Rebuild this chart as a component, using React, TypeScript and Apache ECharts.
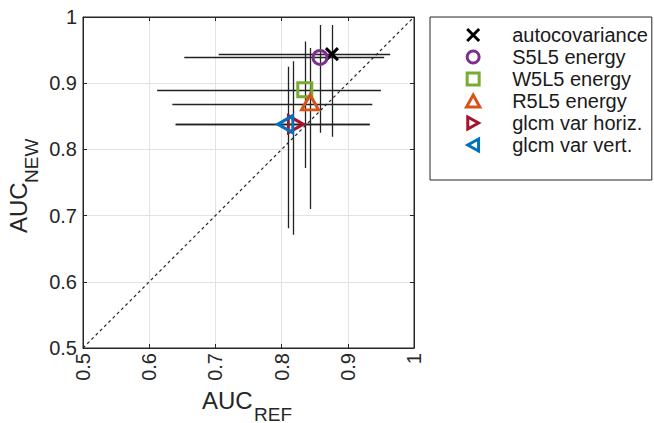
import React, { useEffect, useRef } from 'react';
import * as echarts from 'echarts';

const labels = ['autocovariance', 'S5L5 energy', 'W5L5 energy', 'R5L5 energy', 'glcm var horiz.', 'glcm var vert.'];
const aucRef = [0.876, 0.858, 0.835, 0.843, 0.817, 0.81];
const aucNew = [0.944, 0.939, 0.89, 0.868, 0.838, 0.838];
const refLow = [0.705, 0.653, 0.612, 0.635, 0.64, 0.64];
const refHigh = [0.964, 0.955, 0.95, 0.937, 0.933, 0.933];
const newLow = [0.819, 0.825, 0.772, 0.71, 0.671, 0.681];
const newHigh = [0.988, 0.988, 0.963, 0.953, 0.933, 0.925];
const colors = ['#000000', '#7E2F8E', '#77AC30', '#D95319', '#A2142F', '#0072BD'];
const symbols = [
  'path://M0,0L10,10M10,0L0,10',
  'path://M5,0A5,5 0 1,1 5,10A5,5 0 1,1 5,0Z',
  'path://M0,0L10,0L10,10L0,10Z',
  'path://M5,0L10,9L0,9Z',
  'path://M0,0L9,5L0,10Z',
  'path://M9,0L0,5L9,10Z',
];
const markerSizes: any[] = [12, 14, 14, [17, 15], [15, 17], [15, 17]];
const markerOffsets = [[0, 0], [0, 0], [0, 0], [0, -2], [3, 0], [-3, 0]];
const axisTicks = [0.5, 0.6, 0.7, 0.8, 0.9, 1];

const FONT = 'Liberation Sans, Arial, Helvetica, sans-serif';
const TXT = '#262626';

export default function App() {
  const ref = useRef<HTMLDivElement>(null);
  useEffect(() => {
    const chart = echarts.init(ref.current!, null, { renderer: 'svg' });
    const min = axisTicks[0];
    const max = axisTicks[axisTicks.length - 1];
    const fmt = (v: number) => String(Math.round(v * 10) / 10);
    const baseAxis = {
      type: 'value',
      min,
      max,
      interval: 0.1,
      axisLine: { show: true, lineStyle: { color: TXT, width: 1 } },
      axisTick: { show: true, inside: true, length: 4, lineStyle: { color: TXT } },
    };
    const errSegs: any[] = [];
    for (let i = 0; i < labels.length; i++) {
      errSegs.push({ coords: [[refLow[i], aucNew[i]], [refHigh[i], aucNew[i]]] });
      errSegs.push({ coords: [[aucRef[i], newLow[i]], [aucRef[i], newHigh[i]]] });
    }
    const scatterSeries = labels.map((name, i) => ({
      type: 'scatter',
      name,
      data: [[aucRef[i], aucNew[i]]],
      symbol: symbols[i],
      symbolSize: markerSizes[i],
      symbolOffset: markerOffsets[i],
      symbolKeepAspect: false,
      itemStyle: {
        color: i === 0 ? '#000' : 'rgba(0,0,0,0)',
        borderColor: colors[i],
        borderWidth: 3,
        opacity: 1,
      },
      z: 5,
    }));
    chart.setOption({
      animation: false,
      backgroundColor: '#fff',
      textStyle: { fontFamily: FONT },
      grid: {
        left: 83,
        top: 17,
        width: 331,
        height: 331,
        show: true,
        borderColor: TXT,
        borderWidth: 1,
        backgroundColor: '#fff',
      },
      xAxis: [
        {
          ...baseAxis,
          position: 'bottom',
          axisLabel: { rotate: 90, fontSize: 20, color: TXT, margin: 5, fontFamily: FONT, formatter: fmt },
          splitLine: { show: true, lineStyle: { color: '#e3e3e3', width: 1 } },
        },
        {
          ...baseAxis,
          position: 'top',
          axisLabel: { show: false },
          splitLine: { show: false },
        },
      ],
      yAxis: [
        {
          ...baseAxis,
          position: 'left',
          axisLabel: { fontSize: 20, color: TXT, margin: 6, fontFamily: FONT, formatter: fmt },
          splitLine: { show: true, lineStyle: { color: '#e3e3e3', width: 1 } },
        },
        {
          ...baseAxis,
          position: 'right',
          axisLabel: { show: false },
          splitLine: { show: false },
        },
      ],
      legend: {
        orient: 'vertical',
        left: 430,
        top: 17,
        padding: [7, 4, 24, 35],
        itemGap: 0,
        itemWidth: 68,
        itemHeight: 12,
        symbolKeepAspect: true,
        borderColor: TXT,
        borderWidth: 1,
        backgroundColor: '#fff',
        textStyle: { fontSize: 20, color: '#1a1a1a', fontFamily: FONT, lineHeight: 22 },
        data: labels.map((name, i) => ({
          name,
          icon: symbols[i],
          itemStyle: {
            color: i === 0 ? '#000' : 'rgba(0,0,0,0)',
            borderColor: colors[i],
            borderWidth: 3,
          },
        })),
      },
      series: [
        {
          type: 'line',
          data: [[min, min], [max, max]],
          showSymbol: false,
          silent: true,
          lineStyle: { color: TXT, width: 1.2, type: [3, 3] },
          z: 1,
        },
        {
          type: 'lines',
          coordinateSystem: 'cartesian2d',
          data: errSegs,
          silent: true,
          lineStyle: { color: '#222', width: 1.3, opacity: 1 },
          z: 2,
        },
        ...scatterSeries,
      ],
      graphic: [
        {
          type: 'text',
          x: 202,
          y: 400.5,
          style: { text: 'AUC', fontSize: 24, fill: TXT, fontFamily: FONT, align: 'left', verticalAlign: 'middle' },
        },
        {
          type: 'text',
          x: 254,
          y: 414,
          style: { text: 'REF', fontSize: 19, fill: TXT, fontFamily: FONT, align: 'left', verticalAlign: 'middle' },
        },
        {
          type: 'text',
          x: 18.5,
          y: 233,
          rotation: Math.PI / 2,
          style: { text: 'AUC', fontSize: 24, fill: TXT, fontFamily: FONT, align: 'left', verticalAlign: 'middle' },
        },
        {
          type: 'text',
          x: 31.5,
          y: 183,
          rotation: Math.PI / 2,
          style: { text: 'NEW', fontSize: 19, fill: TXT, fontFamily: FONT, align: 'left', verticalAlign: 'middle' },
        },
      ],
    });
    return () => chart.dispose();
  }, []);
  return (
    <div
      ref={ref}
      style={{ position: 'absolute', left: 0, top: 0, width: 654, height: 423, background: '#fff' }}
    />
  );
}
